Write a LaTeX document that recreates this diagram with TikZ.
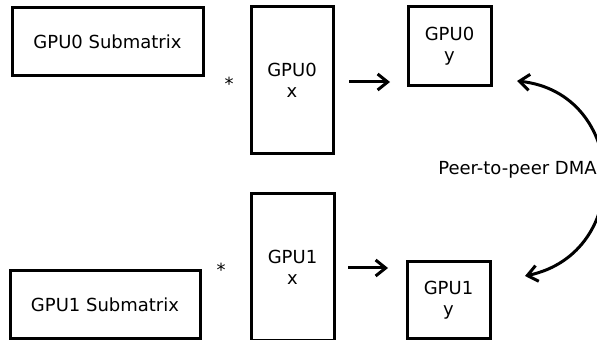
\documentclass[tikz,border=0pt]{standalone}
\usepackage{fontspec}
\setmainfont{DejaVu Sans}
\usetikzlibrary{arrows.meta}
\begin{document}
\begin{tikzpicture}[x=0.5pt,y=-0.5pt,
  box/.style={draw,line width=1.5pt,inner sep=0pt,align=center,font=\fontsize{9}{10.5}\selectfont},
  txt/.style={inner sep=0pt,font=\fontsize{9}{10.5}\selectfont},
  tip/.style={Straight Barb[length=5pt,width=8pt]},
  arr/.style={line width=1.5pt,-{Straight Barb[length=5pt,width=8pt]}},
  dbl/.style={line width=1.5pt,{Straight Barb[length=5pt,width=8pt]}-{Straight Barb[length=5pt,width=8pt]}}]
\useasboundingbox (0,0) rectangle (597,340);
\clip (0,0) rectangle (597,340);
% boxes
\node[box,minimum width=95.5pt,minimum height=34pt] (sub0) at (107.5,42) {GPU0 Submatrix};
\node[box,minimum width=41pt,minimum height=73.5pt] (x0) at (292,80.5) {GPU0\\x};
\node[box,minimum width=41.5pt,minimum height=39.5pt] (y0) at (449.5,46.5) {GPU0\\y};
\node[box,minimum width=95pt,minimum height=34pt] (sub1) at (105,305) {GPU1 Submatrix};
\node[box,minimum width=41.5pt,minimum height=73.5pt] (x1) at (292.5,267.5) {GPU1\\x};
\node[box,minimum width=41.5pt,minimum height=38.5pt] (y1) at (448.5,300.5) {GPU1\\y};
% stars
\node[txt] (star0) at (229,84) {*};
\node[txt] (star1) at (221,270) {*};
% arrows
\coordinate (a0s) at (349,82);
\coordinate (a0e) at (390,82);
\coordinate (a1s) at (348,268);
\coordinate (a1e) at (388,268);
\draw[arr] (a0s) -- (a0e);
\draw[arr] (a1s) -- (a1e);
% DMA
\coordinate (ta) at (517,81);
\coordinate (tb) at (525,276);
\draw[dbl] (ta) .. controls (628,93) and (634,253) .. (tb);
\node[txt] (dma) at (517.5,170) {Peer-to-peer DMA};
\end{tikzpicture}
\end{document}
